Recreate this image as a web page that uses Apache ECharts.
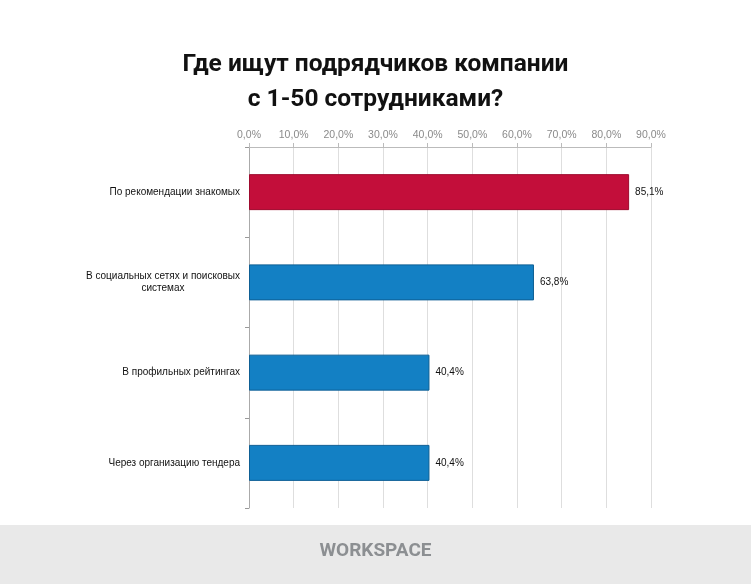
<!DOCTYPE html>
<html>
<head>
<meta charset="utf-8">
<script src="https://cdn.jsdelivr.net/npm/echarts@6/dist/echarts.min.js"></script>
<style>
  html, body { margin: 0; padding: 0; background: #fff; }
  #chart { width: 751px; height: 584px; }
</style>
</head>
<body>
<div id="chart"></div>
<script>
var categories = [
    'По рекомендации знакомых',
    'В социальных сетях и поисковых\nсистемах',
    'В профильных рейтингах',
    'Через организацию тендера'
];
var values = [85.1, 63.8, 40.4, 40.4];
var barColors = ['#c30e3a', '#1380c4', '#1380c4', '#1380c4'];
var borderColors = ['#9e0a2e', '#0e5f94', '#0e5f94', '#0e5f94'];

var chart = echarts.init(document.getElementById('chart'));

// проценты с запятой
function pct(v) {
    return v.toFixed(1).replace('.', ',') + '%';
}

var option = {
    backgroundColor: '#fff',
    animation: false,
    title: {
        text: 'Где ищут подрядчиков компании\nс 1-50 сотрудниками?',
        left: 'center',
        top: 42,
        textStyle: {
            fontFamily: 'Roboto',
            fontWeight: 'bold',
            fontSize: 24.5,
            lineHeight: 35,
            color: '#111'
        }
    },
    grid: {
        left: 249,
        right: 100,
        top: 147,
        bottom: 76
    },
    xAxis: {
        type: 'value',
        position: 'top',
        min: 0,
        max: 90,
        interval: 10,
        axisLine: { show: true, lineStyle: { color: '#bbb' } },
        axisTick: { show: true, length: 4, lineStyle: { color: '#bbb' } },
        axisLabel: {
            color: '#8a8a8a',
            fontSize: 10.5,
            fontFamily: 'Liberation Sans',
            margin: 6,
            formatter: pct
        },
        splitLine: { show: true, lineStyle: { color: '#dedede' } }
    },
    yAxis: {
        type: 'category',
        inverse: true,
        data: categories,
        axisLine: { show: true, lineStyle: { color: '#aaa' } },
        axisTick: { show: true, length: 4, lineStyle: { color: '#999' } },
        axisLabel: {
            color: '#111',
            fontSize: 10,
            fontFamily: 'Liberation Sans',
            margin: 9,
            lineHeight: 12,
            align: 'right',
            formatter: function (v) {
                return v.split('\n').map(function (s) { return '{c|' + s + '}'; }).join('\n');
            },
            rich: {
                c: {
                    align: 'center',
                    color: '#111',
                    fontSize: 10,
                    fontFamily: 'Liberation Sans',
                    lineHeight: 12
                }
            }
        }
    },
    series: [{
        type: 'bar',
        barWidth: 36,
        data: values.map(function (v, i) {
            return {
                value: v,
                itemStyle: { color: barColors[i], borderColor: borderColors[i], borderWidth: 1 }
            };
        }),
        label: {
            show: true,
            position: 'right',
            distance: 6,
            color: '#111',
            fontSize: 10,
            fontFamily: 'Liberation Sans',
            formatter: function (p) { return pct(p.value); }
        }
    }],
    graphic: [
        {
            type: 'rect',
            left: 0,
            top: 525,
            shape: { width: 751, height: 59 },
            style: { fill: '#e9e9e9' }
        },
        {
            type: 'text',
            left: 'center',
            top: 542,
            style: {
                text: 'WORKSPACE',
                fill: '#8c8f92',
                font: 'bold 19px "Roboto"'
            }
        }
    ]
};

chart.setOption(option);
</script>
</body>
</html>
